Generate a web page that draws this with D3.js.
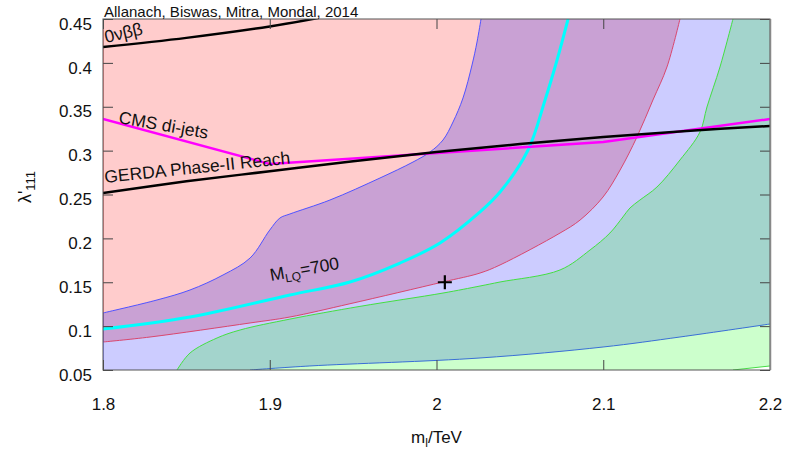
<!DOCTYPE html>
<html>
<head>
<meta charset="utf-8">
<script src="https://cdn.jsdelivr.net/npm/d3@7"></script>
<style>
  html, body { margin: 0; padding: 0; background: #fff; }
  svg { display: block; font-family: "Liberation Sans", Arial, Helvetica, sans-serif; }
</style>
</head>
<body>
<svg id="chart" width="787" height="449"></svg>
<script>
// Axes: slepton mass m_l (TeV) against the RPV coupling lambda'_111
const xTicks = [1.8, 1.9, 2.0, 2.1, 2.2];
const yTicks = [0.05, 0.1, 0.15, 0.2, 0.25, 0.3, 0.35, 0.4, 0.45];

// Region boundaries, each as [m_l, lambda'] pairs
const redEdge = [[1.8, 0.0819], [1.8282, 0.0876], [1.8882, 0.1036], [1.9121, 0.1104], [1.9481, 0.1255],
  [2.0039, 0.1503], [2.0261, 0.1605], [2.0381, 0.1697], [2.0741, 0.2061], [2.0861, 0.2209],
  [2.0999, 0.2472], [2.1101, 0.2779], [2.1202, 0.3155], [2.1298, 0.3577], [2.1382, 0.3953], [2.146, 0.45]];
const blueUpper = [[1.8, 0.115], [1.8324, 0.1298], [1.8522, 0.1412], [1.872, 0.1583], [1.8882, 0.1776],
  [1.9, 0.2095], [1.9061, 0.2232], [1.9121, 0.2278], [1.9361, 0.2437], [1.9661, 0.2688],
  [1.9859, 0.287], [1.9961, 0.2984], [2.0039, 0.3121], [2.0099, 0.3326], [2.0159, 0.36],
  [2.0213, 0.3976], [2.0243, 0.4238], [2.0267, 0.45]];
const blueLower = [[1.8882, 0.05], [1.9241, 0.0546], [2.0261, 0.0637], [2.0999, 0.0762], [2.146, 0.0876], [2.2, 0.1024]];
const greenUpper = [[1.8444, 0.05], [1.8522, 0.0694], [1.8684, 0.0865], [1.8822, 0.0956], [1.9121, 0.108],
  [1.9541, 0.1225], [2.0039, 0.1377], [2.0261, 0.1457], [2.0381, 0.1503], [2.0741, 0.164],
  [2.0921, 0.1868], [2.104, 0.2061], [2.1118, 0.2244], [2.116, 0.2346], [2.122, 0.2437],
  [2.1322, 0.2585], [2.146, 0.2893], [2.158, 0.3212], [2.1622, 0.3497], [2.17, 0.3953], [2.1778, 0.45]];
const greenLower = [[2.1778, 0.05], [2.2, 0.0546]];

// Curves
const mlq700 = [[1.8, 0.0967], [1.8522, 0.1104], [1.9121, 0.1355], [1.9481, 0.1503], [1.9781, 0.1719],
  [2.0021, 0.1947], [2.0261, 0.2301], [2.0381, 0.2528], [2.0549, 0.3007], [2.0651, 0.3577],
  [2.0723, 0.4033], [2.0789, 0.45]];
const cmsDijetM = [1.8, 1.9, 2.1, 2.2];
const cmsDijetL = [0.336, 0.2848, 0.3098, 0.336];
const gerdaM = [1.8, 1.85, 1.9, 1.95, 2.0, 2.05, 2.1, 2.15, 2.2];
const gerdaL = [0.2517, 0.265, 0.2765, 0.288, 0.2985, 0.3075, 0.3155, 0.3225, 0.3281];
const onbbM = [1.8, 1.85, 1.9, 1.93];
const onbbL = [0.4181, 0.4285, 0.4415, 0.4515];
const benchmark = [2.005, 0.15];

const svg = d3.select("#chart");
const x = d3.scaleLinear().domain([1.8, 2.2]).range([103, 770]);
const y = d3.scaleLinear().domain([0.05, 0.45]).range([370, 19]);
const [x0, x1] = x.range();
const [y0, y1] = y.range();

const smooth = d3.line().x(d => x(d[0])).y(d => y(d[1])).curve(d3.curveCatmullRom.alpha(0.5));
const straight = d3.line().x(d => x(d[0])).y(d => y(d[1]));
const pt = (m, l) => `${x(m)},${y(l)}`;
const cont = path => "L" + path.slice(1); // join a curve onto an open path

// closed regions
const pinkD = smooth(redEdge) + `L${pt(1.8, 0.45)}Z`;
const blueD = smooth(blueUpper) + `L${pt(2.2, 0.45)}L${pt(2.2, 0.1024)}`
  + cont(smooth(blueLower.slice().reverse())) + `L${pt(1.8, 0.05)}Z`;
const greenD = smooth(greenUpper) + `L${pt(2.2, 0.45)}`
  + cont(straight(greenLower.slice().reverse())) + "Z";

const defs = svg.append("defs");
defs.append("clipPath").attr("id", "plotArea")
  .append("rect").attr("x", x0).attr("y", y1).attr("width", x1 - x0).attr("height", y0 - y1);
defs.append("clipPath").attr("id", "inPink").append("path").attr("d", pinkD);
defs.append("clipPath").attr("id", "inBlue").append("path").attr("d", blueD);

const plot = svg.append("g").attr("clip-path", "url(#plotArea)");
plot.append("path").attr("d", pinkD).attr("fill", "#ffcccc");
plot.append("path").attr("d", blueD).attr("fill", "#ccccff");
plot.append("path").attr("d", blueD).attr("fill", "#c9a1d4").attr("clip-path", "url(#inPink)");
plot.append("path").attr("d", greenD).attr("fill", "#ccffcc");
plot.append("path").attr("d", greenD).attr("fill", "#a3d4cc").attr("clip-path", "url(#inBlue)");

// region edges
const edge = (d, c) => plot.append("path").attr("d", d).attr("fill", "none")
  .attr("stroke", c).attr("stroke-width", 1);
edge(`M${pt(1.8, 0.45)}L${pt(1.8, 0.0819)}`, "#ff4d4d");
edge(smooth(redEdge), "#d9476e");
edge(`M${pt(1.8, 0.05)}L${pt(1.8, 0.115)}`, "#5050ff");
edge(smooth(blueUpper), "#5252ff");
edge(smooth(blueLower), "#3a6fd6");
edge(smooth(greenUpper), "#44dd44");
edge(straight(greenLower), "#44dd44");

// constraint curves
const curve = (pts, c, w) => plot.append("path").attr("d", smooth(pts)).attr("fill", "none")
  .attr("stroke", c).attr("stroke-width", w).attr("stroke-linejoin", "round");
curve(mlq700, "#00ffff", 3);
plot.append("path").attr("d", straight(cmsDijetM.map((m, i) => [m, cmsDijetL[i]])))
  .attr("fill", "none").attr("stroke", "#ff00ff").attr("stroke-width", 2.5);
curve(gerdaM.map((m, i) => [m, gerdaL[i]]), "#000", 2.5);
curve(onbbM.map((m, i) => [m, onbbL[i]]), "#000", 2.5);

// benchmark point
const bx = x(benchmark[0]), by = y(benchmark[1]);
plot.append("path").attr("d", `M${bx - 7},${by}h14M${bx},${by - 7}v14`)
  .attr("stroke", "#000").attr("stroke-width", 2.2).attr("fill", "none");

// axes with inward ticks on all four sides
const styleAxis = g => {
  g.select(".domain").remove();
  g.selectAll(".tick line").attr("stroke", "#444").attr("stroke-width", 1);
  g.selectAll("text").attr("fill", "#111").style("font-size", "17px")
    .style("font-family", '"Liberation Sans", Arial, sans-serif');
};
const fmt = d3.format("~g");
svg.append("g").attr("transform", `translate(0,${y0})`)
  .call(d3.axisBottom(x).tickValues(xTicks).tickSize(-10).tickPadding(28).tickFormat(fmt))
  .call(styleAxis);
svg.append("g").attr("transform", `translate(0,${y1})`)
  .call(d3.axisTop(x).tickValues(xTicks).tickSize(-10).tickFormat(""))
  .call(styleAxis);
svg.append("g").attr("transform", `translate(${x0},0)`)
  .call(d3.axisLeft(y).tickValues(yTicks).tickSize(-10).tickPadding(11).tickFormat(fmt))
  .call(styleAxis)
  .selectAll("text").attr("dy", "0.6em");
svg.append("g").attr("transform", `translate(${x1},0)`)
  .call(d3.axisRight(y).tickValues(yTicks).tickSize(-10).tickFormat(""))
  .call(styleAxis);

svg.append("rect").attr("x", x0).attr("y", y1).attr("width", x1 - x0).attr("height", y0 - y1)
  .attr("fill", "none").attr("stroke", "#555").attr("stroke-width", 1);
svg.append("line").attr("x1", x1 + 0.5).attr("x2", x1 + 0.5).attr("y1", y1).attr("y2", y0)
  .attr("stroke", "#888").attr("stroke-width", 1.5);

// axis titles
const xl = svg.append("text").attr("x", (x0 + x1) / 2).attr("y", 443)
  .attr("text-anchor", "middle").style("font-size", "17px").attr("fill", "#111");
xl.append("tspan").text("m");
xl.append("tspan").attr("dy", 4).style("font-size", "12px").text("l");
xl.append("tspan").attr("dy", -4).text("/TeV");

const yl = svg.append("text").attr("transform", "translate(31,187) rotate(-90)")
  .attr("text-anchor", "middle").style("font-size", "18px").attr("fill", "#111");
yl.append("tspan").text("λ'");
yl.append("tspan").attr("dy", 4).style("font-size", "13px").text("111");

// title and curve labels
svg.append("text").attr("x", 104).attr("y", 17).style("font-size", "15px").attr("fill", "#111")
  .text("Allanach, Biswas, Mitra, Mondal, 2014");

const label = (px, py, angle, txt) => svg.append("text")
  .attr("transform", `translate(${px},${py}) rotate(${angle})`)
  .style("font-size", "17.5px").attr("fill", "#111").text(txt);
label(106, 43, -13, "0νββ");
label(118, 123, 10, "CMS di-jets");
label(105, 183, -6, "GERDA Phase-II Reach");
const mlq = svg.append("text").attr("transform", "translate(271,281) rotate(-10)")
  .style("font-size", "17.5px").attr("fill", "#111");
mlq.append("tspan").text("M");
mlq.append("tspan").attr("dy", 4).style("font-size", "12px").text("LQ");
mlq.append("tspan").attr("dy", -4).text("=700");
</script>
</body>
</html>
